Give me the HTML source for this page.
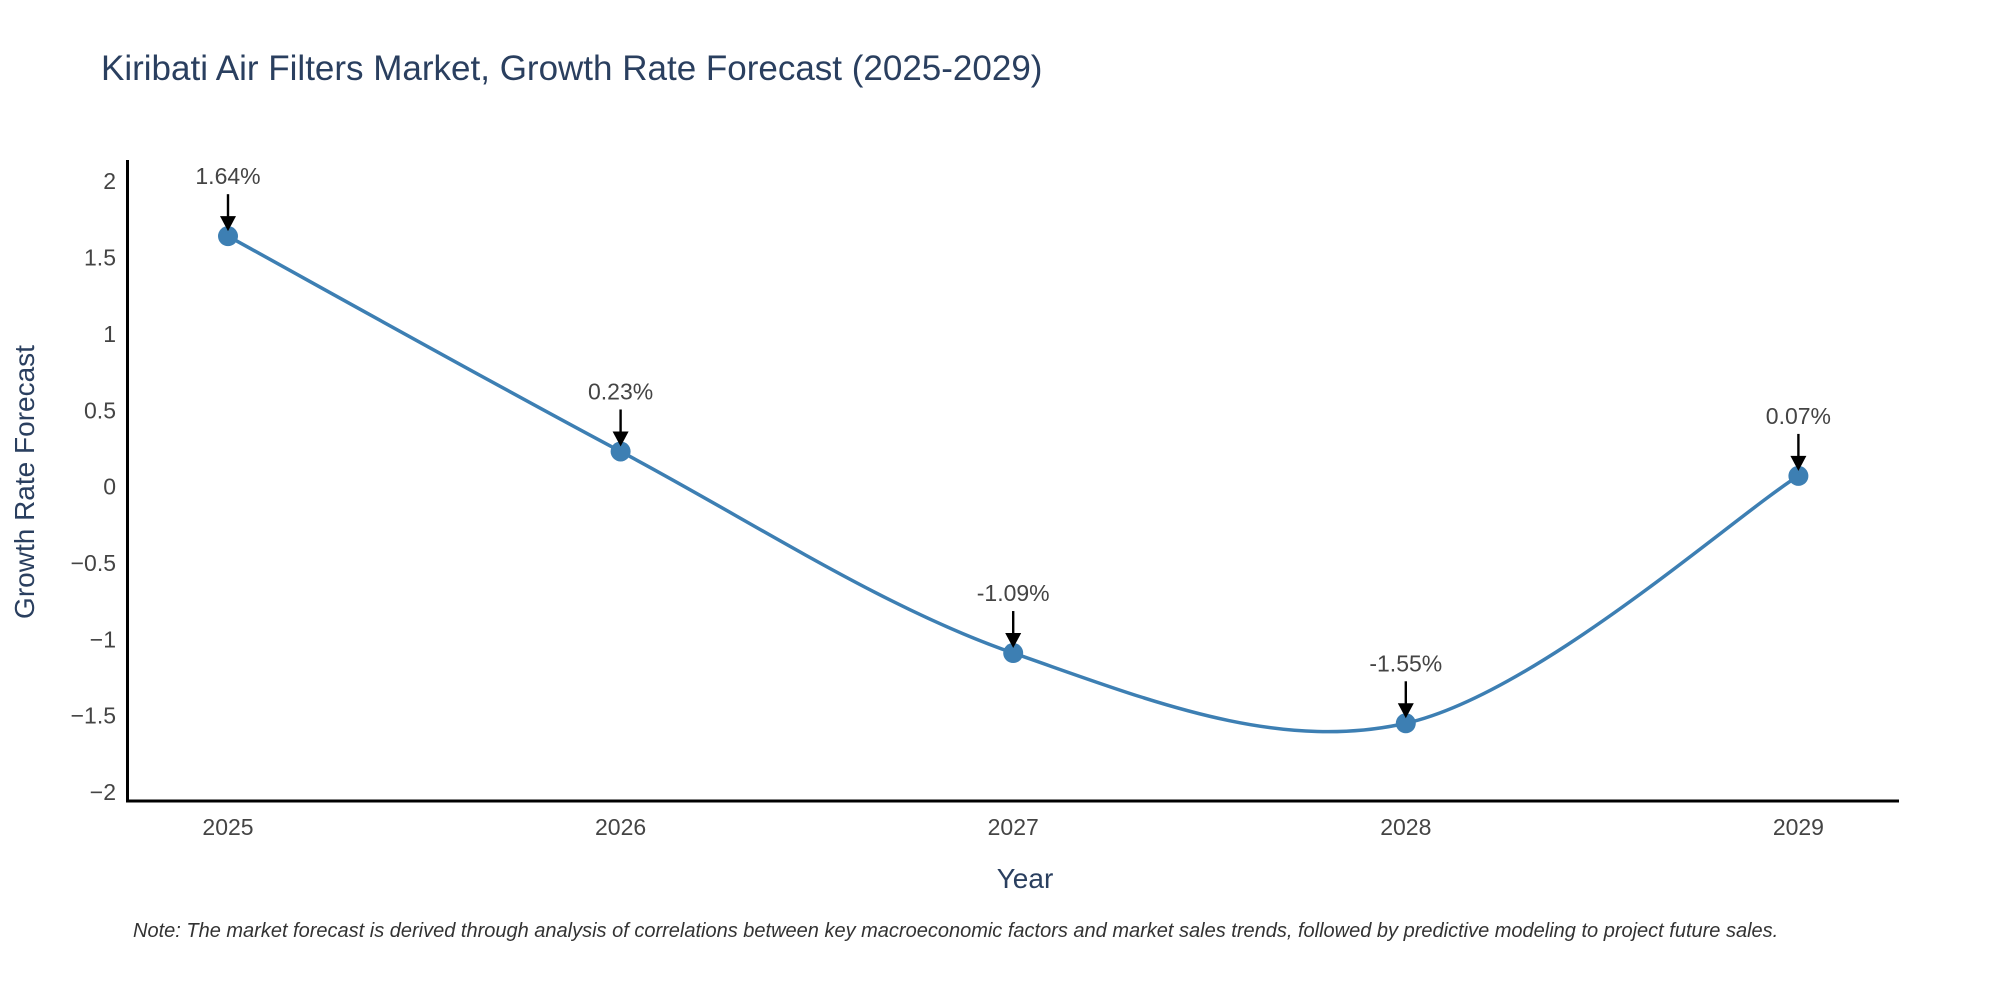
<!DOCTYPE html>
<html><head><meta charset="utf-8"><style>
body{margin:0;background:#fff;}
svg{display:block;font-family:"Liberation Sans",sans-serif;}
</style></head><body>
<svg id="chart" width="2000" height="1000" viewBox="0 0 2000 1000">
<text x="101" y="80" font-size="35" fill="#2a3f5f">Kiribati Air Filters Market, Growth Rate Forecast (2025-2029)</text>
<g id="yticks"></g>
<g id="xticks"></g>
<line x1="127.5" y1="160" x2="127.5" y2="802" stroke="#000" stroke-width="3"/>
<line x1="126" y1="801" x2="1899" y2="801" stroke="#000" stroke-width="3"/>
<text x="1025" y="888" font-size="28" fill="#2a3f5f" text-anchor="middle">Year</text>
<text x="0" y="0" font-size="28" fill="#2a3f5f" text-anchor="middle" transform="translate(34,482) rotate(-90)">Growth Rate Forecast</text>
<g id="series"></g>
<g id="annots"></g>
<text x="133" y="937" font-size="20" font-style="italic" fill="#333">Note: The market forecast is derived through analysis of correlations between key macroeconomic factors and market sales trends, followed by predictive modeling to project future sales.</text>
</svg>
<script>
const years = [2025, 2026, 2027, 2028, 2029];
const values = [1.64, 0.23, -1.09, -1.55, 0.07];
const labels = ["1.64%", "0.23%", "-1.09%", "-1.55%", "0.07%"];
const yTickValues = [2, 1.5, 1, 0.5, 0, -0.5, -1, -1.5, -2];
const yTickLabels = ["2", "1.5", "1", "0.5", "0", "\u22120.5", "\u22121", "\u22121.5", "\u22122"];

const NS = "http://www.w3.org/2000/svg";
function xs(yr){ return 228 + (yr - 2025) * 392.6; }
function ys(v){ return 486.6 - v * 152.7; }
function mk(tag, attrs, parent){
  const e = document.createElementNS(NS, tag);
  for (const k in attrs) e.setAttribute(k, attrs[k]);
  parent.appendChild(e);
  return e;
}
const yg = document.getElementById('yticks');
yTickValues.forEach((v, i) => {
  const t = mk('text', {x: 116, y: ys(v) + 8, 'font-size': 23, fill: '#444', 'text-anchor': 'end'}, yg);
  
  
  t.textContent = yTickLabels[i];
});
const xg = document.getElementById('xticks');
years.forEach(yr => {
  const t = mk('text', {x: xs(yr), y: 835, 'font-size': 23, fill: '#444', 'text-anchor': 'middle'}, xg);
  
  
  t.textContent = String(yr);
});
const pts = years.map((yr, i) => [xs(yr), ys(values[i])]);
let d = `M${pts[0][0]},${pts[0][1]}`;
const s = 1/6;
for (let i = 0; i < pts.length - 1; i++) {
  const p0 = pts[Math.max(0, i-1)], p1 = pts[i], p2 = pts[i+1], p3 = pts[Math.min(pts.length-1, i+2)];
  const c1 = [p1[0] + (p2[0]-p0[0])*s, p1[1] + (p2[1]-p0[1])*s];
  const c2 = [p2[0] - (p3[0]-p1[0])*s, p2[1] - (p3[1]-p1[1])*s];
  d += ` C${c1[0]},${c1[1]} ${c2[0]},${c2[1]} ${p2[0]},${p2[1]}`;
}
const sg = document.getElementById('series');
const path = mk('path', {d: d, fill: 'none', stroke: '#3d7fb3', 'stroke-width': 3.5}, sg);


pts.forEach(p => {
  const c = mk('circle', {cx: p[0], cy: p[1], r: 10, fill: '#3d7fb3'}, sg);
  
  
});
const ag = document.getElementById('annots');
pts.forEach((p, i) => {
  const l = mk('line', {x1: p[0], y1: p[1] - 42, x2: p[0], y2: p[1] - 16, stroke: '#000', 'stroke-width': 2.4}, ag);
  
  
  const h = mk('path', {d: `M${p[0]-8},${p[1]-20} L${p[0]+8},${p[1]-20} L${p[0]},${p[1]-5} Z`, fill: '#000'}, ag);
  
  
  const t = mk('text', {x: p[0], y: p[1] - 52, 'font-size': 23, fill: '#444', 'text-anchor': 'middle'}, ag);
  
  
  t.textContent = labels[i];
});
</script>
</body></html>
